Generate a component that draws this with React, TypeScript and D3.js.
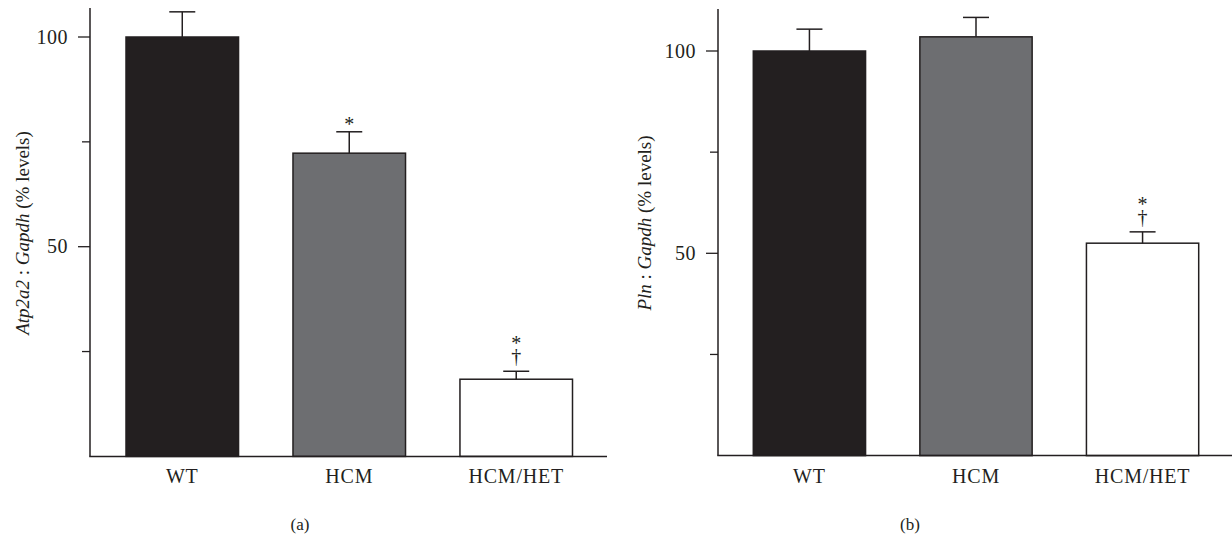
import React, { useEffect, useRef } from 'react';
import * as d3 from 'd3';

// groups and values
const categories = ['WT', 'HCM', 'HCM/HET'];
const atpMeans = [100, 72.3, 18.4];
const atpErrors = [6.0, 5.1, 1.9];
const atpMarks = [[], ['*'], ['*', '†']];
const plnMeans = [100, 103.5, 52.5];
const plnErrors = [5.4, 4.8, 2.8];
const plnMarks = [[], [], ['*', '†']];
const majorTicks = [50, 100];
const minorTicks = [25, 75];
const barColors = ['#231f20', '#6d6e71', '#ffffff'];

const ink = '#231f20';
const serif = '"Liberation Serif", "DejaVu Serif", serif';

type Panel = {
  means: number[];
  errors: number[];
  marks: string[][];
  axisX: number;
  axisTop: number;
  axisRight: number;
  yRange: [number, number];
  bandRange: [number, number];
  gene: string;
  labelX: number;
  labelY: number;
  letter: string;
  letterX: number;
};

const panels: Panel[] = [
  {
    means: atpMeans, errors: atpErrors, marks: atpMarks,
    axisX: 90, axisTop: 8, axisRight: 607,
    yRange: [456.4, 37], bandRange: [126, 572.5],
    gene: 'Atp2a2', labelX: 29, labelY: 233, letter: '(a)', letterX: 300,
  },
  {
    means: plnMeans, errors: plnErrors, marks: plnMarks,
    axisX: 718, axisTop: 9, axisRight: 1232,
    yRange: [455.6, 51], bandRange: [753.3, 1198.7],
    gene: 'Pln', labelX: 651, labelY: 223, letter: '(b)', letterX: 910,
  },
];

const App = () => {
  const svgRef = useRef<SVGSVGElement>(null);

  useEffect(() => {
    const svg = d3.select(svgRef.current);
    svg.selectAll('*').remove();

    panels.forEach(p => {
      const g = svg.append('g');
      const y = d3.scaleLinear().domain([0, 100]).range(p.yRange);
      const x = d3.scaleBand().domain(categories).range(p.bandRange).paddingInner(0.326).paddingOuter(0);
      const base = y(0);

      // bars
      g.selectAll('.bar')
        .data(p.means)
        .enter()
        .append('rect')
        .attr('x', (_, i) => x(categories[i])!)
        .attr('y', d => y(d))
        .attr('width', x.bandwidth())
        .attr('height', d => base - y(d))
        .attr('fill', (_, i) => barColors[i])
        .attr('stroke', ink)
        .attr('stroke-width', 1.5);

      // error bars (upper only)
      p.means.forEach((m, i) => {
        const cx = x(categories[i])! + x.bandwidth() / 2;
        const top = y(m + p.errors[i]);
        g.append('line').attr('x1', cx).attr('x2', cx).attr('y1', y(m)).attr('y2', top)
          .attr('stroke', ink).attr('stroke-width', 1.5);
        g.append('line').attr('x1', cx - 13).attr('x2', cx + 13).attr('y1', top).attr('y2', top)
          .attr('stroke', ink).attr('stroke-width', 1.5);
        // significance marks: dagger just above the cap, asterisk above that
        const marks = p.marks[i];
        marks.forEach(s => {
          let yy = top - 1;
          if (s === '†') yy = top - 8;
          else if (marks.includes('†')) yy = top - 21;
          g.append('text').attr('x', cx).attr('y', yy).attr('text-anchor', 'middle')
            .attr('font-family', serif).attr('font-size', 20).attr('fill', ink).text(s);
        });
      });

      // axes
      g.append('line').attr('x1', p.axisX).attr('x2', p.axisX).attr('y1', p.axisTop).attr('y2', base)
        .attr('stroke', ink).attr('stroke-width', 1.5);
      g.append('line').attr('x1', p.axisX - 0.75).attr('x2', p.axisRight).attr('y1', base).attr('y2', base)
        .attr('stroke', ink).attr('stroke-width', 1.5);

      majorTicks.forEach(t => {
        g.append('line').attr('x1', p.axisX - 12).attr('x2', p.axisX).attr('y1', y(t)).attr('y2', y(t))
          .attr('stroke', ink).attr('stroke-width', 1.3);
        g.append('text').attr('x', p.axisX - 22).attr('y', y(t) + 6.5).attr('text-anchor', 'end')
          .attr('font-family', serif).attr('font-size', 20).attr('letter-spacing', 0.5)
          .attr('fill', ink).text(t);
      });
      minorTicks.forEach(t => {
        g.append('line').attr('x1', p.axisX - 8).attr('x2', p.axisX).attr('y1', y(t)).attr('y2', y(t))
          .attr('stroke', ink).attr('stroke-width', 1.3);
      });

      categories.forEach(c => {
        g.append('text').attr('x', x(c)! + x.bandwidth() / 2).attr('y', 483).attr('text-anchor', 'middle')
          .attr('font-family', serif).attr('font-size', 20).attr('letter-spacing', 0.8)
          .attr('fill', ink).text(c);
      });

      // y label
      const lab = g.append('text')
        .attr('transform', `translate(${p.labelX},${p.labelY}) rotate(-90)`)
        .attr('text-anchor', 'middle')
        .attr('font-family', serif).attr('font-size', 19).attr('fill', ink);
      lab.append('tspan').attr('font-style', 'italic').text(p.gene);
      lab.append('tspan').text(' : ');
      lab.append('tspan').attr('font-style', 'italic').text('Gapdh');
      lab.append('tspan').text(' (% levels)');

      g.append('text').attr('x', p.letterX).attr('y', 530).attr('text-anchor', 'middle')
        .attr('font-family', serif).attr('font-size', 17).attr('fill', ink).text(p.letter);
    });
  }, []);

  return (
    <svg ref={svgRef} width={1232} height={538}
      style={{ position: 'absolute', left: 0, top: 0, background: '#fff' }} />
  );
};

export default App;
